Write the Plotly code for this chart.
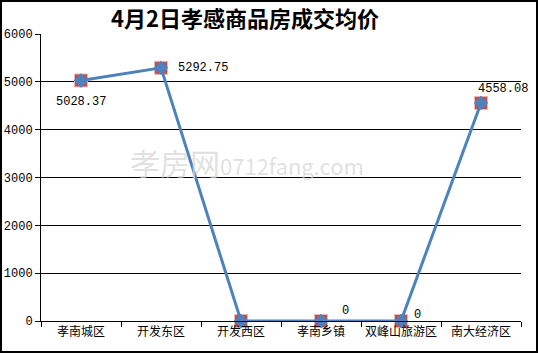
import plotly.graph_objects as go

categories = ["孝南城区", "开发东区", "开发西区", "孝南乡镇", "双峰山旅游区", "南大经济区"]
prices = [5028.37, 5292.75, 0, 0, 0, 4558.08]
label_texts = ["5028.37", "5292.75", "", "0", "0", "4558.08"]
label_shift = [(0, -22), (42, 0), (0, 0), (24, 10), (16, 6), (22, 14)]
y_ticks = [0, 1000, 2000, 3000, 4000, 5000, 6000]

W, H = 538, 353
fig = go.Figure()

fig.add_trace(go.Scatter(
    x=categories, y=prices, mode="markers",
    marker=dict(symbol="square", size=13, color="#C0504D",
                line=dict(color="#E6B9B8", width=1)),
    hoverinfo="skip", showlegend=False, cliponaxis=False))
fig.add_trace(go.Scatter(
    x=categories, y=prices, mode="lines+markers",
    line=dict(color="#4F81BD", width=3),
    marker=dict(symbol="diamond", size=11, color="#4F81BD"),
    showlegend=False, cliponaxis=False))

for c, v, t, (dx, dy) in zip(categories, prices, label_texts, label_shift):
    if t:
        fig.add_annotation(x=c, y=v, text=t, showarrow=False,
                           xshift=dx, yshift=dy,
                           font=dict(family="Liberation Mono, DejaVu Sans Mono", size=12, color="#000"))

# watermark
fig.add_annotation(xref="paper", yref="paper", x=0.43, y=0.555, text="孝房网<span style='font-size:22px'>0712fang.com</span>",
                   showarrow=False,
                   font=dict(family="Noto Sans CJK SC", size=30, color="rgba(215,215,215,0.75)"))

# title
fig.add_annotation(xref="paper", yref="paper", x=(245 - 41) / (521 - 41), y=1,
                   yshift=17, text="<b>4月2日孝感商品房成交均价</b>", showarrow=False,
                   yanchor="middle",
                   font=dict(family="Noto Sans CJK SC", size=22, color="#000"))

fig.update_layout(
    width=W, height=H,
    margin=dict(l=41, r=17, t=34, b=32, autoexpand=False),
    paper_bgcolor="white", plot_bgcolor="white",
    xaxis=dict(type="category", showgrid=False, showline=True, linecolor="#000", linewidth=1,
               ticks="outside", tickcolor="#000", ticklen=5, tickson="boundaries",
               tickangle=0, automargin=False,
               tickfont=dict(family="Noto Sans CJK SC", size=12, color="#000"),
               range=[-0.5, 5.5], fixedrange=True),
    yaxis=dict(range=[0, 6000], tickvals=y_ticks, showgrid=True, gridcolor="#000", gridwidth=1,
               showline=True, linecolor="#000", linewidth=1, ticks="outside", tickcolor="#000",
               ticklen=5, zeroline=False, automargin=False,
               tickfont=dict(family="Liberation Mono, DejaVu Sans Mono", size=12, color="#000")),
    shapes=[dict(type="rect", xref="paper", yref="paper", x0=-40 / 480, x1=1 + 16 / 480,
                 y0=-31 / 287, y1=1 + 33 / 287, line=dict(color="#000", width=2))],
)

fig.write_html("out.html")
